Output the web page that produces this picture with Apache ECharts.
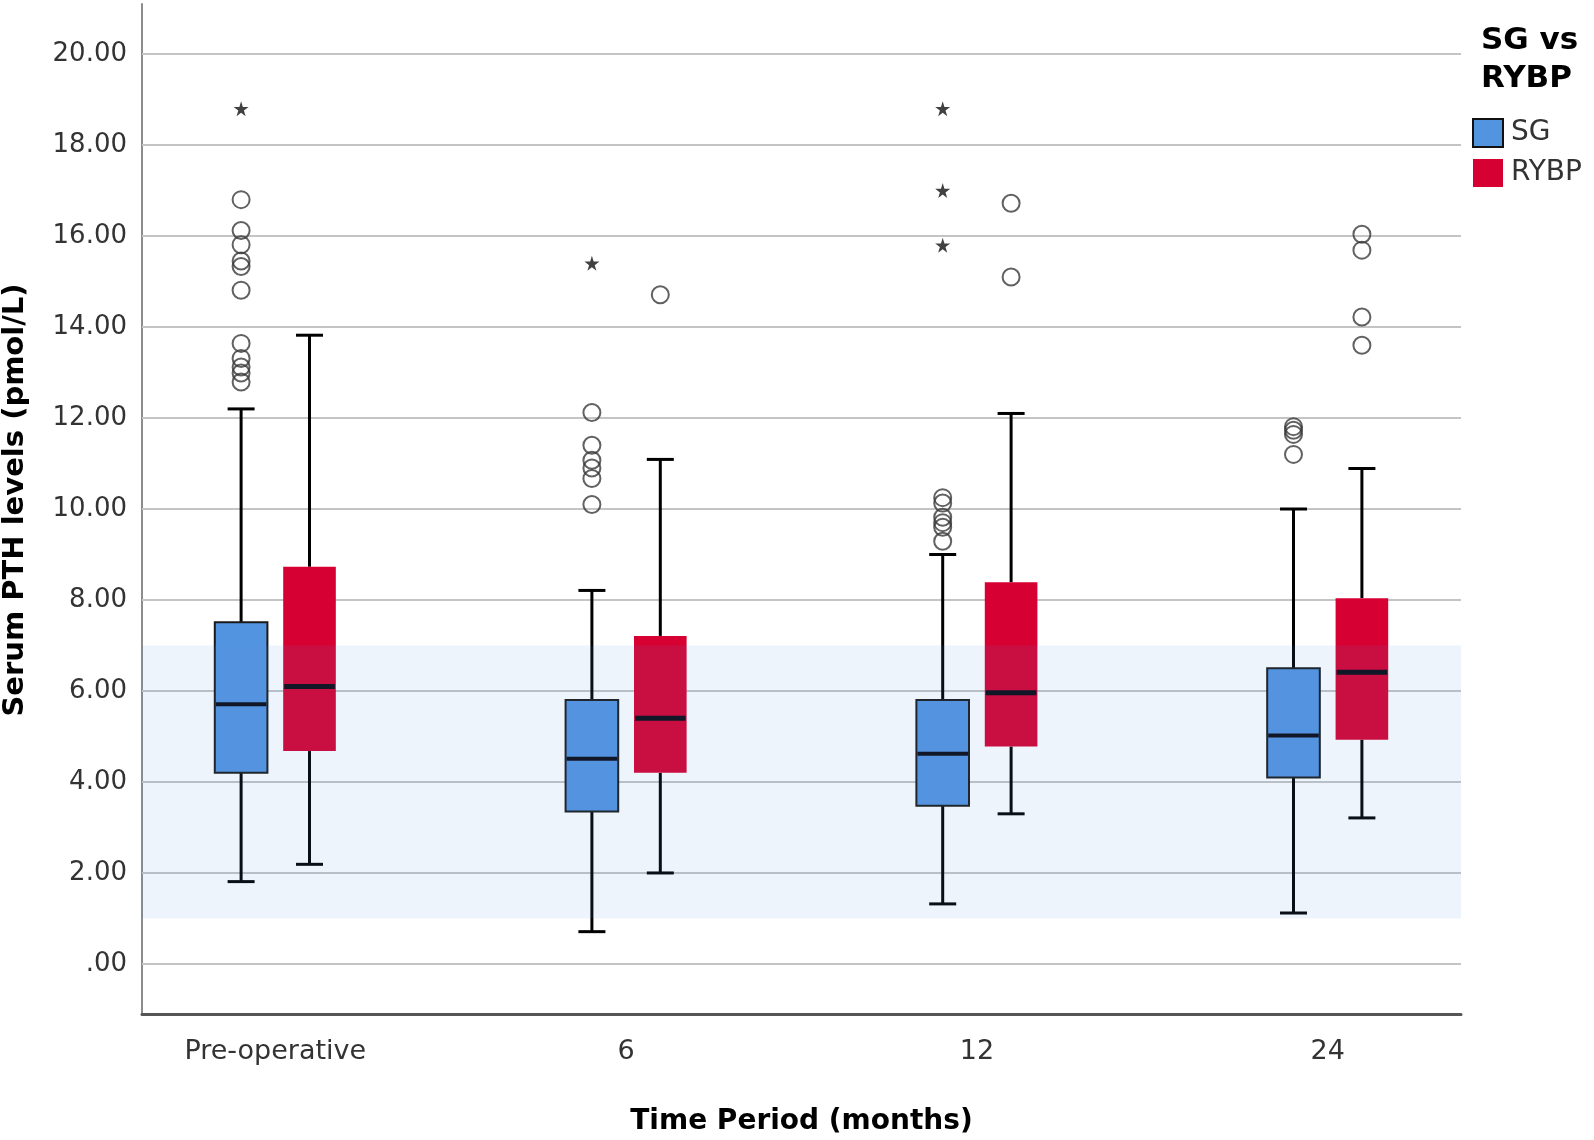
<!DOCTYPE html>
<html><head><meta charset="utf-8">
<script src="https://cdn.jsdelivr.net/npm/echarts@6/dist/echarts.min.js"></script>
<style>html,body{margin:0;padding:0;background:#fff}#c{width:1594px;height:1140px}</style>
</head><body><div id="c"></div>
<script>
// ---- data ----
const categories = ['Pre-operative', '6', '12', '24'];
const groups = ['SG', 'RYBP'];
// [lower whisker, Q1, median, Q3, upper whisker]
const sgBox = [
  [1.81, 4.20, 5.71, 7.51, 12.20],
  [0.71, 3.35, 4.51, 5.80, 8.21],
  [1.32, 3.48, 4.62, 5.80, 9.00],
  [1.12, 4.10, 5.02, 6.50, 10.00]
];
const rybpBox = [
  [2.19, 4.68, 6.10, 8.73, 13.82],
  [2.00, 4.20, 5.40, 7.21, 11.09],
  [3.30, 4.78, 5.96, 8.39, 12.10],
  [3.21, 4.93, 6.41, 8.04, 10.89]
];
// outliers (circles) and extremes (stars)
const sgOutliers = [
  [16.80, 16.12, 15.81, 15.45, 15.33, 14.81, 13.64, 13.31, 13.12, 12.99, 12.79],
  [12.12, 11.40, 11.07, 10.90, 10.67, 10.10],
  [10.25, 10.13, 9.82, 9.70, 9.60, 9.29],
  [11.81, 11.73, 11.64, 11.20]
];
const sgExtremes = [[18.80], [15.40], [18.80, 17.00, 15.80], []];
const rybpOutliers = [[], [14.71], [16.72, 15.10], [16.04, 15.69, 14.22, 13.60]];
const rybpExtremes = [[], [], [], []];
const yTicks = [0, 2, 4, 6, 8, 10, 12, 14, 16, 18, 20];
const refRange = [1, 7];

// ---- style ----
const FONT = 'DejaVu Sans';
const BLUE = '#5394E0', RED = '#D60032';
const DODGE = 0.0975, BOXW = 0.15, CAPW = 0.077;
const STAR = 'path://M50,0 L61,35 L98,35 L68,57 L79,91 L50,70 L21,91 L32,57 L2,35 L39,35 Z';

function boxSeries(name, data, off, color, border, medW) {
  return {
    type: 'custom', name: name, z: 3,
    itemStyle: { color: color },
    data: data.map((d, i) => [i].concat(d)),
    encode: { x: 0, y: [1, 2, 3, 4, 5] },
    renderItem: function (params, api) {
      const c = api.value(0) + off;
      const lo = api.coord([c, api.value(1)]);
      const q1 = api.coord([c, api.value(2)]);
      const md = api.coord([c, api.value(3)]);
      const q3 = api.coord([c, api.value(4)]);
      const hi = api.coord([c, api.value(5)]);
      const bw = api.size([BOXW, 0])[0];
      const cw = api.size([CAPW, 0])[0];
      const x = lo[0];
      const ls = { stroke: '#000', lineWidth: 3 };
      return {
        type: 'group', children: [
          { type: 'line', shape: { x1: x, y1: hi[1], x2: x, y2: q3[1] }, style: ls },
          { type: 'line', shape: { x1: x, y1: q1[1], x2: x, y2: lo[1] }, style: ls },
          { type: 'line', shape: { x1: x - cw / 2, y1: hi[1], x2: x + cw / 2, y2: hi[1] }, style: ls },
          { type: 'line', shape: { x1: x - cw / 2, y1: lo[1], x2: x + cw / 2, y2: lo[1] }, style: ls },
          { type: 'rect', shape: { x: x - bw / 2, y: q3[1], width: bw, height: q1[1] - q3[1] },
            style: border ? { fill: color, stroke: border, lineWidth: 2 } : { fill: color } },
          { type: 'line', shape: { x1: x - bw / 2 + 1, y1: md[1], x2: x + bw / 2 - 1, y2: md[1] },
            style: { stroke: '#0a0a14', lineWidth: medW } }
        ]
      };
    }
  };
}

function pts(arr, off) {
  const out = [];
  arr.forEach((vals, i) => vals.forEach(v => out.push([i + off, v])));
  return out;
}

const chart = echarts.init(document.getElementById('c'));
chart.setOption({
  animation: false,
  backgroundColor: '#fff',
  textStyle: { fontFamily: FONT },
  title: {
    text: 'SG vs\nRYBP', left: 1481, top: 22, padding: 0,
    textStyle: { fontFamily: FONT, fontSize: 31, fontWeight: 'bold', lineHeight: 38, color: '#000' }
  },
  legend: {
    orient: 'vertical', left: 1472, top: 118, padding: 0,
    itemWidth: 30, itemHeight: 28, itemGap: 11,
    textStyle: { fontFamily: FONT, fontSize: 28, color: '#333', padding: [4, 0, 0, 3] },
    data: [
      { name: 'SG', icon: 'rect', itemStyle: { color: BLUE, borderColor: '#111', borderWidth: 2 } },
      { name: 'RYBP', icon: 'rect', itemStyle: { color: RED, borderWidth: 0 } }
    ]
  },
  grid: { left: 142, right: 133, top: 4, bottom: 126, containLabel: false, outerBoundsMode: 'none' },
  xAxis: {
    type: 'value', min: -0.38, max: 3.38,
    axisLine: { show: true, onZero: false, lineStyle: { color: '#555', width: 3 } },
    axisTick: { show: false },
    splitLine: { show: false },
    axisLabel: {
      customValues: [0, 1, 2, 3],
      formatter: v => categories[Math.round(v)],
      fontFamily: FONT, fontSize: 27, color: '#333', margin: 24
    },
    name: 'Time Period (months)', nameLocation: 'middle', nameGap: 94,
    nameTextStyle: { fontFamily: FONT, fontSize: 28, fontWeight: 'bold', color: '#000' }
  },
  yAxis: {
    type: 'value', min: -1.1, max: 21.1,
    axisLine: { show: true, onZero: false, lineStyle: { color: '#8c8c8c', width: 2 } },
    axisTick: { show: false },
    splitLine: { show: false },
    axisLabel: {
      customValues: yTicks,
      formatter: v => (v === 0 ? '.00' : v.toFixed(2)),
      fontFamily: FONT, fontSize: 26, color: '#333', margin: 15
    },
    name: 'Serum PTH levels (pmol/L)', nameLocation: 'middle', nameGap: 112,
    nameTextStyle: { fontFamily: FONT, fontSize: 29, fontWeight: 'bold', color: '#000', padding: [0, 0, 0, 18] }
  },
  series: [
    {
      type: 'scatter', name: 'grid', z: 1, silent: true, data: [],
      markLine: {
        z: 1, silent: true, symbol: ['none', 'none'], label: { show: false },
        lineStyle: { color: '#c4c4c4', width: 2, type: 'solid' },
        data: yTicks.map(v => ({ yAxis: v }))
      }
    },
    boxSeries('SG', sgBox, -DODGE, BLUE, '#1a1a1a', 4),
    boxSeries('RYBP', rybpBox, DODGE, RED, null, 5),
    {
      type: 'scatter', name: 'band', z: 10, silent: true, data: [],
      markArea: {
        z: 10, silent: true,
        itemStyle: { color: 'rgba(85,145,215,0.1)' },
        data: [[{ yAxis: refRange[0] }, { yAxis: refRange[1] }]]
      }
    },
    {
      type: 'scatter', name: 'SG outliers', z: 6, symbol: 'circle', symbolSize: 17,
      itemStyle: { color: 'rgba(0,0,0,0)', borderColor: '#3a3a3a', borderWidth: 2 },
      data: pts(sgOutliers, -DODGE)
    },
    {
      type: 'scatter', name: 'RYBP outliers', z: 6, symbol: 'circle', symbolSize: 17,
      itemStyle: { color: 'rgba(0,0,0,0)', borderColor: '#3a3a3a', borderWidth: 2 },
      data: pts(rybpOutliers, DODGE)
    },
    {
      type: 'scatter', name: 'SG extremes', z: 6, symbol: STAR, symbolSize: 15,
      itemStyle: { color: '#111' },
      data: pts(sgExtremes, -DODGE)
    },
    {
      type: 'scatter', name: 'RYBP extremes', z: 6, symbol: STAR, symbolSize: 15,
      itemStyle: { color: '#111' },
      data: pts(rybpExtremes, DODGE)
    }
  ]
});
</script>
</body></html>
